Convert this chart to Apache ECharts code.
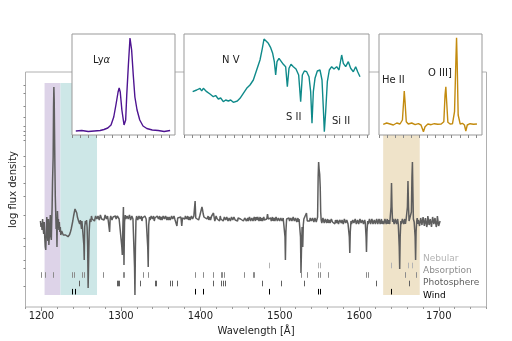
<!DOCTYPE html>
<html><head><meta charset="utf-8">
<script src="https://cdn.jsdelivr.net/npm/echarts@6/dist/echarts.min.js"></script>
<style>html,body{margin:0;padding:0;background:#fff}#c{width:512px;height:341px}</style>
</head><body><div id="c"></div>
<script>
// ---------------- data ----------------
const xTickLabels = [1200, 1300, 1400, 1500, 1600, 1700];
// main spectrum: [wavelength (A), log flux (arbitrary units)]
const mainSpectrum = [
[1198.8,86],[1199.5,80],[1200.2,84],[1200.8,77],[1201.5,88],[1202.2,79],[1202.9,73],[1203.6,85],[1204.2,70],[1204.9,60],
[1205.5,57],[1206.1,72],[1206.8,90],[1207.4,78],[1208.1,66],[1208.8,88],[1209.4,62],[1210.0,60],[1210.6,80],[1211.2,92],
[1211.9,70],[1212.5,67],[1213.0,85],[1213.5,100],[1214.0,125],[1214.8,150],[1215.3,200],[1215.7,220],[1216.1,208],[1216.5,178],
[1217.0,140],[1217.5,110],[1218.0,95],[1218.5,78],[1219.0,90],[1219.6,60],[1220.2,96],[1220.8,84],[1221.4,88],[1222.0,77],
[1222.6,85],[1223.2,75],[1223.8,80],[1224.4,72],[1225.5,76],[1226.5,74],[1227.5,72],[1228.5,73],[1229.5,71],[1230.5,72],
[1231.5,71],[1232.5,70.5],[1233.5,70.3],[1234.5,71],[1235.5,72.5],[1236.5,75],[1237.5,78],[1238.5,82],[1239.5,86],[1240.5,91],
[1241.5,95],[1242.3,98],[1243.0,99],[1243.7,97],[1244.5,94],[1245.3,90],[1246.0,92],[1246.8,86],[1247.5,88],[1248.2,83],
[1249.0,87],[1249.8,85],[1250.5,78],[1251.0,86],[1251.8,84],[1252.6,87],[1253.4,62],[1253.9,47],[1254.5,80],[1255.3,86],
[1256.0,83],[1256.8,87],[1257.5,80],[1258.2,60],[1258.8,19],[1259.4,45],[1260.1,75],[1260.8,85],[1261.5,88],[1262.3,85],[1263.0,91],
[1263.8,88],[1264.5,87],[1265.2,90],[1266.0,90],[1266.8,86],[1267.5,88],[1268.2,91],[1269.0,92],[1269.8,88],[1270.5,87],[1271.2,91],[1272.0,90],[1272.8,87],[1273.5,89],[1274.2,92],[1275.0,91],[1275.8,88],[1276.5,86],[1277.2,90],[1278.0,90],
[1278.8,87],[1279.5,88],[1280.2,92],[1281.0,91],[1281.8,88],[1282.5,89],[1283.2,91],[1284.0,87],[1285.0,85],[1285.8,75],[1286.5,88],[1287.2,91],[1288.0,90],[1288.8,87],[1289.5,87],[1290.2,90],[1291.0,91],[1291.8,88],[1292.5,89],
[1293.2,91],[1294.0,88],[1294.8,90],[1295.5,91],[1296.2,89],[1297.0,92],[1297.8,88],[1298.5,90],[1299.2,87],[1300.0,88],[1301.2,60],[1301.8,52],[1302.5,80],[1303.2,100],[1303.9,42],
[1304.6,85],[1305.5,92],[1306.2,88],[1307.0,88],[1307.8,91],[1308.5,93],[1309.2,88],[1310.0,89],[1310.8,92],[1311.5,90],[1312.2,87],[1313.0,87],[1313.8,91],[1314.5,91],[1315.2,88],[1316.0,88],[1317.2,40],
[1317.7,12],[1318.3,60],[1319.0,87],[1319.8,91],[1320.5,90],[1321.2,87],[1322.0,88],[1322.8,91],[1323.5,91],[1324.2,88],[1325.0,89],[1325.8,91],[1326.5,86],[1327.2,89],[1328.0,90],[1328.8,87],[1329.5,88],
[1330.2,91],[1331.0,91],[1331.8,88],[1332.5,89],[1333.8,60],[1334.4,40],[1335.0,82],[1336.0,90],[1336.8,87],[1337.5,88],[1338.2,91],[1339.0,91],[1339.8,88],[1340.5,89],[1341.2,91],[1342.0,86],
[1342.8,89],[1343.5,90],[1344.2,87],[1345.0,88],[1345.8,91],[1346.5,91],[1347.2,88],[1348.0,89],[1348.8,91],[1349.5,87],[1350.2,89],[1351.0,90],[1351.8,87],[1352.5,88],[1353.2,91],[1354.0,91],[1354.8,88],[1355.5,88],[1356.2,91],[1357.0,89],
[1357.8,87],[1358.5,90],[1359.2,88],[1360.0,87],[1360.8,90],[1361.5,90],[1362.2,87],[1363.0,89],[1363.8,91],[1364.5,91],[1365.2,88],[1366.0,88],[1366.8,91],[1367.5,90],[1368.2,87],[1369.0,88],[1370.5,81],[1371.5,89],
[1372.2,91],[1373.0,91],[1373.8,88],[1374.5,88],[1375.5,90],[1376.6,81],[1377.5,89],[1378.2,91],[1379.0,90],[1379.8,87],[1380.5,88],[1381.2,91],[1382.0,91],[1382.8,88],[1383.5,89],[1384.2,91],[1385.0,87],[1385.8,89],[1386.5,90],
[1387.2,87],[1388.0,88],[1388.8,91],[1389.5,91],[1390.2,88],[1391.0,89],[1391.8,91],[1392.6,90],[1393.4,106],[1394.2,89],[1394.8,91],[1395.5,88],[1396.2,90],[1397.0,90],[1397.8,87],[1398.5,89],[1399.2,91],[1400.0,91],
[1401.2,93],[1402.0,100],[1402.8,97],[1403.6,93],[1404.5,90],[1405.2,88],[1406.0,88],[1406.8,91],[1407.5,91],[1408.2,88],[1409.0,89],[1409.8,91],[1410.5,87],[1411.2,89],[1412.0,90],
[1412.8,87],[1413.5,88],[1414.2,91],[1415.0,91],[1416.5,94],[1417.5,89],[1418.2,86],[1419.0,88],[1419.8,91],[1420.5,90],[1421.2,88],[1422.0,87],[1422.8,90],[1423.5,89],[1424.2,86],[1425.0,91],[1425.8,88],[1426.5,88],
[1427.2,90],[1428.0,89],[1428.8,86],[1429.5,87],[1430.2,90],[1431.0,90],[1431.8,87],[1432.5,88],[1433.2,90],[1434.0,89],[1434.8,86],[1435.5,86],[1436.2,89],[1437.0,89],[1437.8,86],[1438.5,88],[1439.2,90],[1440.0,90],[1440.8,87],[1441.5,87],
[1442.2,90],[1443.0,89],[1443.8,87],[1444.5,86],[1445.2,89],[1446.0,88],[1446.8,86],[1447.5,89],[1448.2,90],[1449.0,87],[1449.8,89],[1450.5,88],[1451.2,86],[1452.0,86],[1452.8,89],[1453.5,89],[1454.2,86],[1455.0,87],[1455.8,89],[1456.5,88],
[1457.2,90],[1458.0,86],[1458.8,88],[1459.5,89],[1460.2,86],[1461.0,87],[1461.8,90],[1462.5,88],[1463.2,86],[1464.0,86],[1464.8,89],[1465.5,89],[1466.2,86],[1467.0,87],[1467.8,90],[1468.5,88],[1469.2,86],[1470.0,90],[1470.8,88],[1471.5,87],
[1472.2,90],[1473.0,89],[1473.8,86],[1474.5,88],[1475.2,90],[1476.0,86],[1476.8,88],[1477.5,89],[1478.2,86],[1479.0,88],[1479.8,90],[1480.5,87],[1481.2,89],[1482.0,89],[1482.8,86],[1483.5,88],[1484.5,93],[1485.5,88],
[1486.2,86],[1487.0,87],[1487.8,90],[1488.5,89],[1489.2,86],[1490.0,88],[1490.8,90],[1491.5,86],[1492.2,88],[1493.0,89],[1493.8,86],[1494.5,87],[1495.2,90],[1496.0,88],[1496.8,86],[1497.5,86],[1498.2,89],[1499.0,89],[1499.8,86],[1500.5,87],
[1501.2,89],[1502.0,88],[1502.8,86],[1503.5,86],[1504.2,89],[1505.0,88],[1506.5,70],[1507.0,47],[1507.6,75],[1508.5,88],[1509.2,86],[1510.0,87],[1510.8,90],[1511.5,89],[1512.2,86],[1513.0,86],
[1513.8,89],[1514.5,88],[1515.2,86],[1516.0,87],[1516.8,90],[1517.5,89],[1518.2,86],[1519.0,86],[1519.8,89],[1520.5,88],[1521.2,85],[1522.0,87],[1522.8,89],[1523.5,85],[1524.2,88],[1525.0,86],[1526.0,70],[1526.6,34],
[1527.3,60],[1528.0,80],[1528.8,60],[1529.5,82],[1530.2,88],[1531.0,86],[1531.8,89],[1532.5,88],[1533.5,94],[1534.5,86],[1535.2,88],[1536.0,88],[1536.8,85],[1537.5,86],[1538.2,89],
[1539.0,89],[1539.8,86],[1540.5,87],[1541.2,89],[1542.0,88],[1542.8,85],[1543.5,86],[1544.2,89],[1545.0,88],[1545.8,85],[1546.5,87],[1547.5,90],[1548.2,130],[1548.8,145],[1549.4,138],
[1550.1,133],[1550.8,120],[1551.4,95],[1552.0,87],[1552.8,84],[1553.5,86],[1554.2,89],[1555.0,88],[1555.8,84],[1556.5,85],[1557.2,88],[1558.0,87],[1558.8,84],[1559.5,86],[1560.2,88],[1561.0,84],
[1561.8,86],[1562.5,87],[1563.2,84],[1564.0,85],[1564.8,88],[1565.5,88],[1566.2,85],[1567.0,84],[1567.8,87],[1568.5,86],[1569.2,83],[1570.0,87],[1570.8,86],[1571.5,84],[1572.2,87],[1573.0,86],[1573.8,83],[1574.5,85],[1575.2,87],[1576.0,88],
[1576.8,85],[1577.5,84],[1578.2,87],[1579.0,86],[1579.8,83],[1580.5,85],[1581.2,88],[1582.0,87],[1582.8,84],[1583.5,84],[1584.2,87],[1585.0,86],[1585.8,83],[1586.5,85],[1587.4,70],[1588.0,54],[1588.6,75],
[1589.5,86],[1590.2,83],[1591.0,84],[1591.8,87],[1592.5,87],[1593.2,84],[1594.0,85],[1594.8,88],[1595.5,86],[1596.2,83],[1597.0,83],[1597.8,87],[1598.5,86],[1599.2,83],[1600.0,85],[1600.8,88],[1601.5,87],[1602.2,84],[1603.0,84],
[1603.8,87],[1604.5,86],[1605.2,83],[1606.0,85],[1606.8,87],[1607.5,84],[1608.5,70],[1609.0,55],[1609.6,75],[1610.5,86],[1611.2,83],[1612.0,84],[1612.8,88],[1613.5,87],[1614.2,83],[1615.0,85],
[1615.8,88],[1616.5,86],[1617.2,83],[1618.0,83],[1618.8,87],[1619.5,86],[1620.2,83],[1621.0,85],[1621.8,88],[1622.5,87],[1623.2,83],[1624.0,84],[1624.8,88],[1625.5,86],[1626.2,83],[1627.0,85],[1627.8,88],[1628.5,83],[1629.2,86],[1630.0,86],
[1630.8,83],[1631.5,84],[1632.2,88],[1633.0,87],[1633.8,83],[1634.5,85],[1635.2,88],[1636.0,83],[1636.8,87],[1637.5,86],[1638.2,83],[1639.0,85],[1639.9,100],[1640.5,124],[1641.1,100],[1641.8,85],
[1642.4,88],[1643.0,86],[1643.8,83],[1644.5,84],[1645.2,88],[1646.0,87],[1646.8,83],[1647.5,85],[1648.2,88],[1649.0,83],[1650.2,60],[1650.8,38],[1651.4,70],[1652.2,86],[1652.8,83],[1653.5,84],
[1654.2,88],[1655.0,87],[1655.8,83],[1656.5,85],[1657.2,88],[1658.0,83],[1658.8,87],[1659.5,86],[1660.5,100],[1661.2,126],[1661.9,100],[1662.6,86],[1663.5,84],[1664.5,86],
[1665.5,95],[1666.2,130],[1666.8,145],[1667.4,115],[1668.0,88],[1669.0,85],[1670.2,70],[1670.8,47],[1671.4,75],[1672.2,86],
[1672.8,89],[1673.5,83],[1674.2,87],[1675.0,88],[1675.8,81],[1676.5,82],[1677.2,89],[1678.0,87],[1678.8,82],[1679.5,84],[1680.2,90],[1681.0,89],[1681.8,81],[1682.5,81],[1683.2,89],[1684.0,88],[1684.8,80],[1685.5,83],[1686.2,91],[1687.0,90],
[1687.8,82],[1688.5,80],[1689.2,88],[1690.0,87],[1690.8,80],[1691.5,82],[1692.2,90],[1693.0,91],[1693.8,83],[1694.5,81],[1695.2,89],[1696.0,88],[1696.8,80],[1697.5,83],[1698.2,91],[1699.0,90],[1699.8,81],[1700.5,82],[1701.6,86]
];
// inset profiles: [wavelength (A), relative flux]
const lyaProfile = [
[1207.7,4],[1208.8,4.5],[1210.0,3.5],[1211.1,4],[1212.2,4.5],[1212.9,5.5],[1213.6,7],[1214.2,10],[1214.7,18],[1215.1,30],
[1215.5,43],[1215.7,47],[1215.9,43],[1216.2,25],[1216.6,10],[1216.9,15],[1217.1,40],[1217.4,70],[1217.7,97],[1218.0,85],
[1218.3,60],[1218.6,38],[1219.0,25],[1219.5,15],[1220.1,9],[1220.8,6.5],[1221.8,5],[1222.9,4.5],[1224.0,3.5],[1225.1,4.5]
];
const nvProfile = [
[1222.6,43.3],[1223.8,45],[1224.8,46.7],[1225.3,44],[1225.8,46.7],[1226.8,43.3],[1227.8,41],[1228.8,38.3],[1229.5,39.5],[1230.3,36],
[1231.0,37],[1231.8,33.3],[1232.5,35],[1233.3,34],[1234.0,35],[1234.8,32.7],[1236.0,34],[1236.8,36.7],[1237.8,41.7],[1238.8,46.7],
[1239.8,50],[1240.8,55],[1241.8,65],[1242.8,75],[1243.5,86.7],[1244.0,96],[1244.6,94],[1245.3,91.7],[1246.0,87.3],[1246.6,81.7],
[1247.1,73.3],[1247.5,60],[1247.9,73.3],[1248.5,76.7],[1249.1,75],[1249.8,70.7],[1250.5,68.3],[1251.0,48.3],[1251.5,66.7],[1252.1,70.7],
[1252.8,68.3],[1253.6,66],[1254.4,60],[1255.0,33.3],[1255.5,60],[1256.1,64],[1256.8,63.3],[1257.5,58.3],[1258.0,43.3],[1258.4,11.7],
[1258.8,43.3],[1259.3,56.7],[1260.0,64],[1260.8,65],[1261.4,55],[1261.8,26.7],[1262.1,3.3],[1262.5,23.3],[1263.0,53.3],[1263.6,65],
[1264.3,68.3],[1265.0,66],[1265.8,68.3],[1266.5,65],[1267.3,80],[1267.8,71.7],[1268.5,68.3],[1269.3,73.3],[1270.0,66.7],[1270.8,63.3],
[1271.5,68.3],[1272.1,63.3],[1272.8,58.3]
];
const heiiProfile = [
[1630.1,10.7],[1631.8,12],[1633.5,11],[1635.1,10],[1636.8,12],[1638.4,11],[1639.6,15],[1640.3,36.7],[1640.5,44],[1640.9,33.3],
[1641.5,13.3],[1642.5,11],[1644.2,12],[1645.9,10.3],[1647.5,11.3],[1648.8,10],[1650.0,3.3],[1650.8,8.3],[1652.2,11],[1653.8,10.3],
[1655.4,11.3],[1657.1,10.7],[1658.8,11],[1660.1,13.3],[1660.7,40],[1661.1,48.3],[1661.4,36.7],[1662.1,12.7],[1663.2,11],[1664.4,11.3],
[1665.4,23.3],[1666.1,76.7],[1666.4,97.3],[1666.7,73.3],[1667.2,20],[1668.2,11],[1669.3,11.7],[1670.3,10],[1671.0,4],[1671.7,10],
[1673.1,11.3],[1674.8,10.7],[1676.5,11]
];
// line lists (A)
const nebularLines = [1486.5, 1548.2, 1550.8, 1640.4, 1661.2, 1666.2];
const absorptionLines = [1200.0, 1205.0, 1215.2, 1238.8, 1241.5, 1250.5, 1253.8, 1277.0, 1302.2, 1304.4, 1328.0, 1334.5,
  1393.8, 1402.8, 1416.5, 1425.8, 1427.5, 1429.5, 1454.5, 1466.3, 1468.0, 1527.0, 1534.0, 1548.2, 1550.8, 1560.6,
  1608.6, 1610.8, 1657.0, 1670.8];
const photosphereLines = [1247.5, 1294.6, 1296.0, 1297.5, 1324.0, 1342.5, 1344.8, 1362.0, 1364.2, 1370.5, 1416.5, 1425.8,
  1428.0, 1430.4, 1477.5, 1501.0, 1530.0, 1620.5, 1663.0];
const windLines = [1238.8, 1242.8, 1393.8, 1402.8, 1486.5, 1548.2, 1550.8, 1640.4];
const shadedRanges = [[1204, 1224], [1224, 1270], [1630, 1676]];
const legendNames = ['Nebular', 'Absorption', 'Photosphere', 'Wind'];
const insetLabels = ['Lyα', 'N V', 'S II', 'Si II', 'He II', 'O III]'];

// ---------------- chart ----------------
const FONT = 'DejaVu Sans';
const chart = echarts.init(document.getElementById('c'), null, {renderer: 'canvas', width: 512, height: 341});

const yTickPos = [222, 213.7, 200.3, 189.7, 180.3, 176, 172, 167, 150.3, 140.3, 123.7, 110.3, 91.3, 68.7, 60.3, 47, 38.7, 20.3];

const rowColors = ['#b3b3b3', '#8c8c8c', '#606060', '#000000'];
const rowCenters = [41.5, 32, 23.5, 15.3];
const rowLists = [nebularLines, absorptionLines, photosphereLines, windLines];
const shadeColors = ['#ddd3e8', '#cde7e7', '#efe3c9'];

function rowSeries(i) {
  return {
    type: 'custom', xAxisIndex: 0, yAxisIndex: 0, z: 4, silent: true,
    data: rowLists[i].map(l => [l, rowCenters[i]]),
    renderItem(params, api) {
      const a = api.coord([api.value(0), api.value(1) - 2.8]);
      const b = api.coord([api.value(0), api.value(1) + 2.8]);
      const x = Math.round(a[0]) + 0.5;
      return {type: 'line', shape: {x1: x, y1: a[1], x2: x, y2: b[1]}, style: {stroke: rowColors[i], lineWidth: 1}};
    }
  };
}

function insetX(idx, min, max, step) {
  const t = []; for (let v = min; v <= max + 1e-9; v += step) t.push(+v.toFixed(3));
  return {type: 'value', gridIndex: idx, min, max, z: 11,
    axisLine: {show: false}, splitLine: {show: false}, axisLabel: {show: false},
    axisTick: {show: true, inside: false, length: 3, customValues: t, lineStyle: {color: '#888', width: 1}}};
}
function insetY(idx, max) {
  return {type: 'value', gridIndex: idx, min: 0, max, show: false, z: 11, splitLine: {show: false}};
}

const graphics = [];
const legendY = [259.3, 271.3, 283.7, 296.7];
legendNames.forEach((n, i) => graphics.push({type: 'text', left: 423, top: legendY[i] - 5.5, z: 20,
  style: {text: n, fill: rowColors[i], font: '9px "' + FONT + '"'}}));
const lblPos = [[93, 61], [222, 61], [286, 118], [332, 122], [382, 81], [428, 74]];
insetLabels.forEach((t, i) => {
  const txt = i === 0 ? '{a|Ly}{b|α}' : t;
  graphics.push({type: 'text', left: lblPos[i][0], top: lblPos[i][1] - 6, z: 30,
    style: {text: txt, fill: '#222', font: '10px "' + FONT + '"',
      rich: {a: {font: '10px "' + FONT + '"', fill: '#222'}, b: {font: 'italic 10px "' + FONT + '"', fill: '#222'}}}});
});

const option = {
  animation: false,
  backgroundColor: '#fff',
  textStyle: {fontFamily: FONT},
  graphic: graphics,
  grid: [
    {left: 25.5, right: 25.5, top: 72, bottom: 34, show: true, borderColor: '#b0b0b0', borderWidth: 1, backgroundColor: 'transparent', z: 0},
    {left: 72, top: 34, width: 103, height: 101, show: true, borderColor: '#999', borderWidth: 1, backgroundColor: '#fff', z: 10},
    {left: 184, top: 34, width: 185, height: 101, show: true, borderColor: '#999', borderWidth: 1, backgroundColor: '#fff', z: 10},
    {left: 379, top: 34, width: 103, height: 101, show: true, borderColor: '#999', borderWidth: 1, backgroundColor: '#fff', z: 10}
  ],
  xAxis: [
    {type: 'value', gridIndex: 0, min: 1180, max: 1760, name: 'Wavelength [Å]', nameLocation: 'middle', nameGap: 19,
      nameTextStyle: {fontSize: 10, color: '#222', fontFamily: FONT},
      axisLine: {show: false}, splitLine: {show: false},
      axisTick: {show: true, length: 4, customValues: xTickLabels, lineStyle: {color: '#888'}},
      axisLabel: {show: true, customValues: xTickLabels, fontSize: 10, color: '#222', margin: 4, fontFamily: FONT,
        formatter: v => String(v)}},
    insetX(1, 1207, 1226, 1.5),
    insetX(2, 1220, 1275.5, 2.5),
    insetX(3, 1628, 1679, 4),
    {type: 'value', gridIndex: 0, min: 1180, max: 1760, interval: 20, position: 'bottom',
      axisLine: {show: false}, splitLine: {show: false}, axisLabel: {show: false},
      axisTick: {show: true, length: 2, lineStyle: {color: '#999'}}}
  ],
  yAxis: [
    {type: 'value', gridIndex: 0, min: 0, max: 235, name: 'log flux density', nameLocation: 'middle', nameGap: 7,
      nameTextStyle: {fontSize: 10, color: '#222', fontFamily: FONT},
      axisLine: {show: false}, splitLine: {show: false}, axisLabel: {show: false},
      axisTick: {show: true, length: 2, customValues: yTickPos, lineStyle: {color: '#888'}}},
    insetY(1, 101), insetY(2, 101), insetY(3, 101)
  ],
  series: [
    {type: 'line', xAxisIndex: 0, yAxisIndex: 0, data: mainSpectrum, showSymbol: false, z: 3,
      lineStyle: {color: '#5e5e5e', width: 1.5}, silent: true,
      markArea: {silent: true, data: shadedRanges.map((r, i) => [
        {xAxis: r[0], yAxis: 12, itemStyle: {color: shadeColors[i], opacity: 1}},
        {xAxis: r[1], yAxis: 224}])}},
    rowSeries(0), rowSeries(1), rowSeries(2), rowSeries(3),
    {type: 'line', xAxisIndex: 1, yAxisIndex: 1, data: lyaProfile, showSymbol: false, z: 12, silent: true,
      lineStyle: {color: '#4e1491', width: 1.4}},
    {type: 'line', xAxisIndex: 2, yAxisIndex: 2, data: nvProfile, showSymbol: false, z: 12, silent: true,
      lineStyle: {color: '#0f8a8a', width: 1.4}},
    {type: 'line', xAxisIndex: 3, yAxisIndex: 3, data: heiiProfile, showSymbol: false, z: 12, silent: true,
      lineStyle: {color: '#c38b0f', width: 1.4}}
  ]
};
chart.setOption(option);
</script></body></html>
